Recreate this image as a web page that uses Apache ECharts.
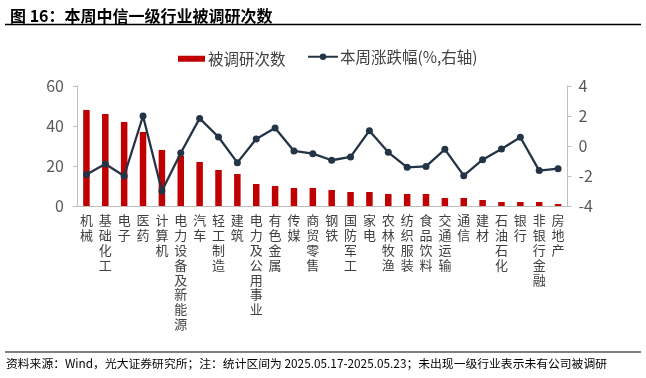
<!DOCTYPE html>
<html>
<head>
<meta charset="utf-8">
<script src="https://cdn.jsdelivr.net/npm/echarts@6/dist/echarts.min.js"></script>
<style>
html,body{margin:0;padding:0;background:#fff;}
#chart{width:646px;height:378px;}
</style>
</head>
<body>
<div id="chart"></div>
<script>
const categories = ['机械','基础化工','电子','医药','计算机','电力设备及新能源','汽车','轻工制造','建筑','电力及公用事业','有色金属','传媒','商贸零售','钢铁','国防军工','家电','农林牧渔','纺织服装','食品饮料','交通运输','通信','建材','石油石化','银行','非银行金融','房地产'];
const researchCounts = [48,46,42,37,28,25,22,18,16,11,10,9,9,8,7,7,6,6,6,4,4,3,2,2,2,1];
const weeklyChange = [-1.9,-1.2,-2.0,2.0,-3.0,-0.47,1.84,0.6,-1.11,0.47,1.2,-0.33,-0.51,-0.95,-0.73,1.02,-0.42,-1.42,-1.36,-0.22,-1.98,-0.91,-0.2,0.58,-1.64,-1.51];
const leftTicks = [0,20,40,60];
const rightTicks = [-4,-2,0,2,4];

const FONT = '"Noto Sans CJK SC", "Noto Sans", sans-serif';
const chart = echarts.init(document.getElementById('chart'), null, {renderer:'canvas'});
const option = {
  backgroundColor:'#fff',
  animation:false,
  textStyle:{fontFamily:FONT},
  title:{
    text:'图 16：本周中信一级行业被调研次数',
    left:5, top:3,
    textStyle:{fontSize:16, fontWeight:'bold', color:'#000', fontFamily:FONT}
  },
  graphic:[
    {type:'line', shape:{x1:5,y1:24.5,x2:641,y2:24.5}, style:{stroke:'#000', lineWidth:1.5}},
    {type:'line', shape:{x1:5,y1:352,x2:641,y2:352}, style:{stroke:'#000', lineWidth:1}},
    {type:'text', left:6, top:358, style:{text:'资料来源：Wind，光大证券研究所；注：统计区间为 2025.05.17-2025.05.23；未出现一级行业表示未有公司被调研', fontSize:11.8, fill:'#000', fontFamily:FONT}}
  ],
  legend:[
    {data:['被调研次数'], left:173, top:46, itemWidth:27, itemHeight:6, icon:'rect', itemGap:10,
     textStyle:{fontSize:15.5, color:'#404040', fontFamily:FONT, padding:[0,0,0,-2]}},
    {data:['本周涨跌幅(%,右轴)'], left:302, top:44, itemWidth:30, itemHeight:8, itemGap:10,
     textStyle:{fontSize:15.5, color:'#404040', fontFamily:FONT, padding:[0,0,0,-3]}}
  ],
  grid:{left:77, right:78.5, top:86, bottom:172, containLabel:false},
  xAxis:{
    type:'category', data:categories, boundaryGap:true,
    axisLine:{lineStyle:{color:'#BFBFBF', width:1}},
    axisTick:{show:false},
    axisLabel:{interval:0, margin:7, fontSize:13, lineHeight:14.8, color:'#404040', verticalAlign:'top',
      formatter:v=>v.split('').join('\n')}
  },
  yAxis:[
    {type:'value', min:leftTicks[0], max:leftTicks[leftTicks.length-1], interval:20, position:'left',
     splitLine:{show:false},
     axisLine:{show:true, lineStyle:{color:'#BFBFBF'}},
     axisTick:{show:true, length:4, lineStyle:{color:'#BFBFBF'}},
     axisLabel:{fontSize:16, color:'#595959', margin:13}},
    {type:'value', min:rightTicks[0], max:rightTicks[rightTicks.length-1], interval:2, position:'right',
     splitLine:{show:false},
     axisLine:{show:true, lineStyle:{color:'#BFBFBF'}},
     axisTick:{show:true, length:4, lineStyle:{color:'#BFBFBF'}},
     axisLabel:{fontSize:16, color:'#595959', margin:11}}
  ],
  series:[
    {name:'被调研次数', type:'bar', data:researchCounts, yAxisIndex:0, barWidth:6.5,
     itemStyle:{color:'#C00000'}},
    {name:'本周涨跌幅(%,右轴)', type:'line', data:weeklyChange, yAxisIndex:1,
     symbol:'circle', symbolSize:7, lineStyle:{color:'#243447', width:2.3},
     itemStyle:{color:'#243447'}}
  ]
};
chart.setOption(option);
</script>
</body>
</html>
